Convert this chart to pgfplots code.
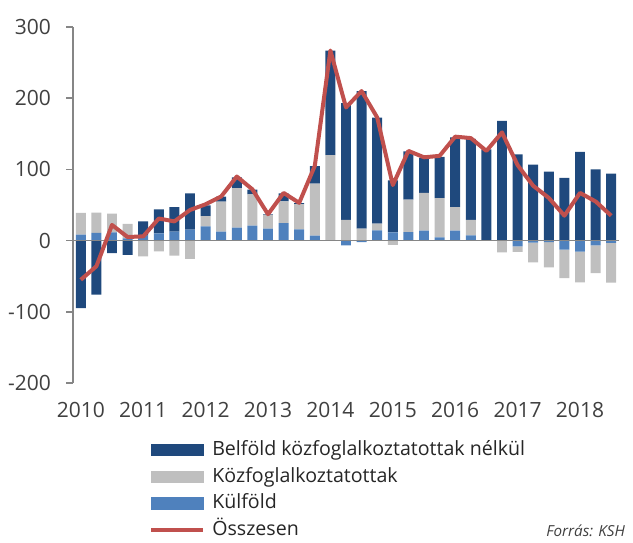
\documentclass[border=0pt]{standalone}
\usepackage{fontspec}
\setmainfont{Open Sans}
\usepackage{pgfplots}
\usepackage{pgfplotstable}
\pgfplotsset{compat=1.18}

\definecolor{belf}{RGB}{31,73,125}
\definecolor{kozf}{RGB}{191,191,191}
\definecolor{kulf}{RGB}{79,129,189}
\definecolor{ossz}{RGB}{192,80,77}
\definecolor{axgray}{RGB}{134,134,134}
\definecolor{txt}{RGB}{64,64,64}

% quarters 2010Q1 .. 2018Q3 (k = 0..34), positive and negative parts apart
\pgfplotstableread{
k lbP grP dkP lbN grN dkN tot
0 8.5 30.5 0 0 0 -95 -55
1 10.7 28.5 0 0 0 -76 -36
2 11.5 26.5 0 0 0 -17.5 22
3 3 20.5 0 0 0 -20 5
4 7 0 20 0 -22 0 6
5 10 0 34 0 -15 0 31
6 12.6 0 34.4 0 -21 0 27
7 15.5 0 51 0 -25.5 0 43
8 20 14.4 15 0 0 0 51
9 12.7 42 7.1 0 0 0 62
10 18.4 55.2 15.1 0 0 0 90
11 21.2 43.8 6.7 0 0 0 72
12 17 19 1 0 0 0 37
13 24.5 30.5 11.5 0 0 0 67
14 15.6 35.8 1.4 0 0 0 53
15 7 73 24.7 0 0 0 105
16 0 120 147 0 0 0 267
17 0 29 164 -6.6 0 0 187
18 0 16.8 193 -2 0 0 210
19 14.5 9.3 149 0 0 0 173
20 11.5 0 73 0 -6 0 78
21 12 45.5 68 0 0 0 126
22 14 53 49 0 0 0 117
23 4.5 55 58 0 0 0 119
24 14 33 98 0 0 0 146
25 7.5 21.5 114 0 0 0 144
26 0 0 128 0 0 0 126
27 0 0 168 0 -16.5 0 152
28 0 0 121 -8 -8 0 106
29 0 0 106.6 -3 -27.7 0 77
30 0 0 97 -2 -35.7 0 60
31 0 0 88 -12.7 -40 0 35
32 0 0 124.5 -15.6 -43 0 67
33 0 0 100 -6.6 -39 0 55
34 0 0 94 -3.3 -55.7 0 35
}\data

\pgfplotsset{
  base/.style={
    width=273pt, height=178pt, scale only axis,
    xmin=-0.5, xmax=34.5, ymin=-200, ymax=300,
    enlargelimits=false,
  },
  bars/.style={base, ybar stacked, bar width=0.64, hide axis},
  patch/.style={legend image code/.code={\fill[#1] (0pt,-2.8pt) rectangle (26pt,2.8pt);}},
}

\begin{document}
\begin{tikzpicture}
\useasboundingbox (-36.5pt,-79.5pt) rectangle (280pt,191.5pt);

% positive parts + axis
\begin{axis}[
    base, ybar stacked, bar width=0.64,
    axis lines*=left,
    x axis line style={draw=none},
    y axis line style={axgray, line width=0.75pt, -},
    ytick={-200,-100,0,100,200,300},
    yticklabels={-200,-100,0,100,200,300},
    xtick={0,4,8,12,16,20,24,28,32},
    xticklabels={2010,2011,2012,2013,2014,2015,2016,2017,2018},
    tick align=outside,
    ytick style={axgray, line width=0.75pt},
    major tick length=3.5pt,
    xtick style={draw=none},
    ytick pos=left,
    tick label style={font=\fontsize{10.5}{12}\selectfont, text=txt},
    yticklabel style={xshift=-4pt},
    xticklabel style={yshift=-2.5pt},
]
\addplot[fill=kulf, draw=none] table[x=k, y=lbP] {\data};
\addplot[fill=kozf, draw=none] table[x=k, y=grP] {\data};
\addplot[fill=belf, draw=none] table[x=k, y=dkP] {\data};
\end{axis}

% negative parts
\begin{axis}[bars]
\addplot[fill=kulf, draw=none] table[x=k, y=lbN] {\data};
\addplot[fill=kozf, draw=none] table[x=k, y=grN] {\data};
\addplot[fill=belf, draw=none] table[x=k, y=dkN] {\data};
\end{axis}

% total line, zero line, legend
\begin{axis}[
    base, hide axis,
    legend style={
        at={(rel axis cs:0.139,-0.161)}, anchor=north west,
        draw=none, fill=none, inner sep=0pt,
        font=\fontsize{9.8}{12}\selectfont, text=black!85,
        row sep=3.8pt,
        nodes={inner sep=0pt, text height=0.75em, text depth=0.2em},
        /tikz/every odd column/.append style={column sep=3.5pt},
    },
    legend cell align=left,
]
\draw[axgray, line width=0.75pt] (axis cs:-0.5,0) -- (axis cs:34.5,0);
\addlegendimage{patch=belf}
\addlegendentry{Belföld közfoglalkoztatottak nélkül}
\addlegendimage{patch=kozf}
\addlegendentry{Közfoglalkoztatottak}
\addlegendimage{patch=kulf}
\addlegendentry{Külföld}
\addplot[ossz, line width=2pt, line join=round, no marks,
    legend image code/.code={\draw[ossz, line width=2pt] (0pt,0pt) -- (26pt,0pt);}]
    table[x=k, y=tot] {\data};
\addlegendentry{Összesen}
\end{axis}

\node[anchor=base east, font=\fontsize{7.6}{9}\selectfont\itshape, text=txt]
    at (279.5pt,-76.9pt) {Forrás: KSH};
\end{tikzpicture}
\end{document}
